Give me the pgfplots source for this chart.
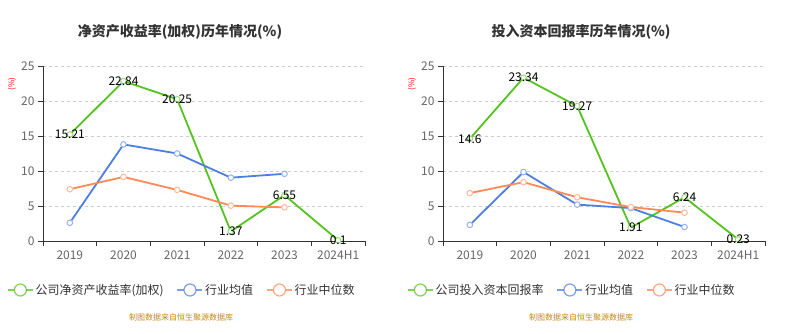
\documentclass[border=0pt]{standalone}
\usepackage{fontspec}
\setmainfont{Noto Sans CJK SC}
\usepackage{pgfplots}
\pgfplotsset{compat=1.18}
\definecolor{cgreen}{HTML}{55C31F}
\definecolor{cblue}{HTML}{4E7FE0}
\definecolor{corange}{HTML}{FF8A55}
\definecolor{cgrid}{HTML}{CCCCCC}
\definecolor{ctick}{HTML}{666666}
\definecolor{ctitle}{HTML}{333333}
\definecolor{csrc}{HTML}{C08A10}
\pgfplotsset{
  mychart/.style={
    scale only axis, width=322bp, height=175bp,
    xmin=-0.5, xmax=5.5, ymin=0, ymax=25,
    axis lines=left, axis line style={-, draw=ctitle, line width=0.8bp},
    xtick={0,...,5}, xticklabels={2019,2020,2021,2022,2023,2024H1},
    major x tick style={draw=none},
    minor xtick={-0.5,0.5,...,5.5},
    minor x tick style={draw=ctitle, line width=0.8bp},
    minor tick length=5bp,
    ytick={0,5,...,25}, major tick length=5bp,
    y tick style={draw=ctitle, line width=0.8bp},
    tick align=outside,
    ymajorgrids, grid style={dashed, cgrid, line width=0.7bp},
    tick label style={font=\fontsize{12bp}{14bp}\selectfont, text=ctick},
    /pgf/number format/assume math mode=true,
    xticklabel style={yshift=-1bp},
    every axis plot/.append style={line width=1.8bp, mark=*, mark size=2.8bp},
    legend image code/.code={\draw[##1, mark=none, line width=1.5bp, draw opacity=0.75] (0bp,0bp) -- (25bp,0bp); \draw[##1, mark=none, fill=white, line width=1.2bp, draw opacity=0.75] (12.5bp,0bp) circle (6bp);},
    legend style={draw=none, fill=none, inner sep=0pt, legend columns=3,
      font=\fontsize{12bp}{14bp}\selectfont, text=ctitle,
      at={(-0.112,-0.28)}, anchor=west,
      /tikz/every even column/.append style={column sep=11bp}},
    nodes near coords style={font=\fontsize{12bp}{14bp}\selectfont, text=black, anchor=center},
    clip=false,
  }
}
\begin{document}
\begin{tikzpicture}[x=1bp,y=1bp]
\path[use as bounding box] (0,0) rectangle (806,333);
% left chart
\begin{axis}[mychart, at={(43bp,92bp)}, anchor=south west]
\addplot[cgreen, mark options={draw=cgreen!60, fill=white, line width=1bp}, nodes near coords, point meta=explicit symbolic] coordinates {(0,15.21)[15.21] (1,22.84)[22.84] (2,20.25)[20.25] (3,1.37)[1.37] (4,6.55)[6.55] (5,0.1)[0.1]};
\addlegendentry{公司净资产收益率(加权)}
\addplot[cblue, mark options={draw=cblue!60, fill=white, line width=1bp}] coordinates {(0,2.6) (1,13.8) (2,12.5) (3,9.05) (4,9.6)};
\addlegendentry{行业均值}
\addplot[corange, mark options={draw=corange!60, fill=white, line width=1bp}] coordinates {(0,7.4) (1,9.15) (2,7.3) (3,5.05) (4,4.8)};
\addlegendentry{行业中位数}
\end{axis}
% right chart
\begin{axis}[mychart, at={(443bp,92bp)}, anchor=south west]
\addplot[cgreen, mark options={draw=cgreen!60, fill=white, line width=1bp}, nodes near coords, point meta=explicit symbolic] coordinates {(0,14.6)[14.6] (1,23.34)[23.34] (2,19.27)[19.27] (3,1.91)[1.91] (4,6.24)[6.24] (5,0.23)[0.23]};
\addlegendentry{公司投入资本回报率}
\addplot[cblue, mark options={draw=cblue!60, fill=white, line width=1bp}] coordinates {(0,2.3) (1,9.85) (2,5.2) (3,4.7) (4,2.0)};
\addlegendentry{行业均值}
\addplot[corange, mark options={draw=corange!60, fill=white, line width=1bp}] coordinates {(0,6.85) (1,8.4) (2,6.25) (3,4.85) (4,4.05)};
\addlegendentry{行业中位数}
\end{axis}
% titles
\node[font=\fontsize{14bp}{16bp}\selectfont\bfseries, text=ctitle] at (180,301) {净资产收益率(加权)历年情况(\%)};
\node[font=\fontsize{14bp}{16bp}\selectfont\bfseries, text=ctitle] at (581,301) {投入资本回报率历年情况(\%)};
\node[font=\fontsize{8bp}{9bp}\selectfont, text=red, rotate=90] at (12,249) {(\%)};
\node[font=\fontsize{8bp}{9bp}\selectfont, text=red, rotate=90] at (412,249) {(\%)};
\node[font=\fontsize{8bp}{9bp}\selectfont, text=csrc] at (181,16) {制图数据来自恒生聚源数据库};
\node[font=\fontsize{8bp}{9bp}\selectfont, text=csrc] at (581,16) {制图数据来自恒生聚源数据库};
\end{tikzpicture}
\end{document}
